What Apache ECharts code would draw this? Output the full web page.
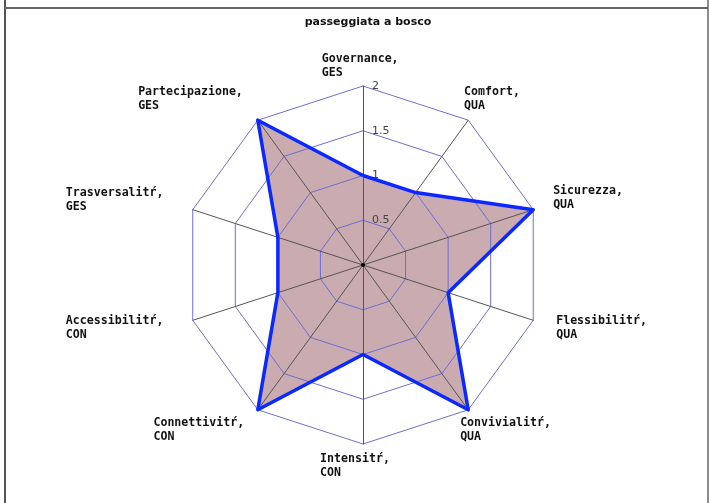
<!DOCTYPE html>
<html>
<head>
<meta charset="utf-8">
<script src="https://cdn.jsdelivr.net/npm/echarts@6/dist/echarts.min.js"></script>
<style>
html,body{margin:0;padding:0;background:#fff;}
#main{width:709px;height:503px;}
</style>
</head>
<body>
<div id="main"></div>
<script>
// assi in senso orario partendo dall'alto
const nomi = ['Governance', 'Comfort', 'Sicurezza', 'Flessibilitŕ', 'Convivialitŕ',
              'Intensitŕ', 'Connettivitŕ', 'Accessibilitŕ', 'Trasversalitŕ', 'Partecipazione'];
const gruppi = ['GES', 'QUA', 'QUA', 'QUA', 'QUA', 'CON', 'CON', 'CON', 'GES', 'GES'];
const valori = [1, 1, 2, 1, 2, 1, 2, 1, 1, 2];
const maxScala = 2;
const tickLabels = ['', '0.5', '1', '1.5', '2'];

// spostamento etichette rispetto al vertice [dx, dy]
const spostamenti = [[-2.8, -20], [23.8, -21.7], [54.8, -12.2], [68.3, 8], [37.3, 20.2],
                     [-8, 22.3], [-59, 20.2], [-78.1, 8], [-78.1, -9.4], [-67.3, -21.4]];

// echarts dispone gli indicatori in senso antiorario
const ordine = [0, 9, 8, 7, 6, 5, 4, 3, 2, 1];

function pad(d) {
    const dx = d[0], dy = d[1];
    return [dy > 0 ? 2 * dy : 0, dx < 0 ? -2 * dx : 0, dy < 0 ? -2 * dy : 0, dx > 0 ? 2 * dx : 0];
}

const indicator = ordine.map(i => ({
    name: nomi[i],
    gruppo: gruppi[i],
    min: 0,
    max: maxScala,
    nameGap: 0,
    nameTextStyle: { align: 'center', verticalAlign: 'middle', padding: pad(spostamenti[i]) },
    axisLabel: { show: i === 0 }
}));
const valoriEc = ordine.map(i => valori[i]);

const myChart = echarts.init(document.getElementById('main'));
const option = {
    animation: false,
    title: {
        text: 'passeggiata a bosco',
        left: 363,
        textAlign: 'center',
        top: 12,
        textStyle: { fontFamily: 'DejaVu Sans', fontSize: 11, fontWeight: 'bold', color: '#111' }
    },
    radar: {
        z: 2,
        center: [363, 265],
        radius: 179,
        startAngle: 90,
        splitNumber: 4,
        shape: 'polygon',
        indicator: indicator,
        axisName: {
            formatter: (name, ind) => '{n|' + name + ',}\n{n|' + ind.gruppo + '}',
            rich: {
                n: {
                    align: 'left',
                    fontFamily: 'DejaVu Sans Mono',
                    fontSize: 11.6,
                    fontWeight: 'bold',
                    lineHeight: 14,
                    color: '#111'
                }
            }
        },
        axisLabel: {
            show: true,
            showMinLabel: false,
            margin: -9,
            align: 'left',
            verticalAlign: 'middle',
            padding: [5, 0, 0, 0],
            color: '#444',
            fontFamily: 'DejaVu Sans',
            fontSize: 11,
            formatter: (v, idx) => tickLabels[idx] != null ? tickLabels[idx] : String(v)
        },
        axisLine: { lineStyle: { color: '#555', width: 1 } },
        splitLine: { lineStyle: { color: '#6e6ed4', width: 1 } },
        splitArea: { show: false }
    },
    graphic: [
        { type: 'line', shape: { x1: 5, y1: 0, x2: 5, y2: 503 }, style: { stroke: '#555', lineWidth: 2 } },
        { type: 'line', shape: { x1: 708, y1: 0, x2: 708, y2: 503 }, style: { stroke: '#666', lineWidth: 1.5 } },
        { type: 'line', shape: { x1: 5, y1: 8, x2: 708, y2: 8 }, style: { stroke: '#666', lineWidth: 2 } },
        { type: 'circle', z: 10, shape: { cx: 363, cy: 265, r: 2 }, style: { fill: '#000' } }
    ],
    series: [
        {
            type: 'radar',
            z: 1,
            silent: true,
            symbol: 'none',
            data: [{ value: valoriEc, areaStyle: { color: '#c9abb0', opacity: 1 }, lineStyle: { opacity: 0 } }]
        },
        {
            type: 'radar',
            z: 3,
            symbol: 'none',
            data: [{ value: valoriEc, lineStyle: { color: '#0a28ff', width: 3.5 } }]
        }
    ]
};
myChart.setOption(option);
</script>
</body>
</html>
